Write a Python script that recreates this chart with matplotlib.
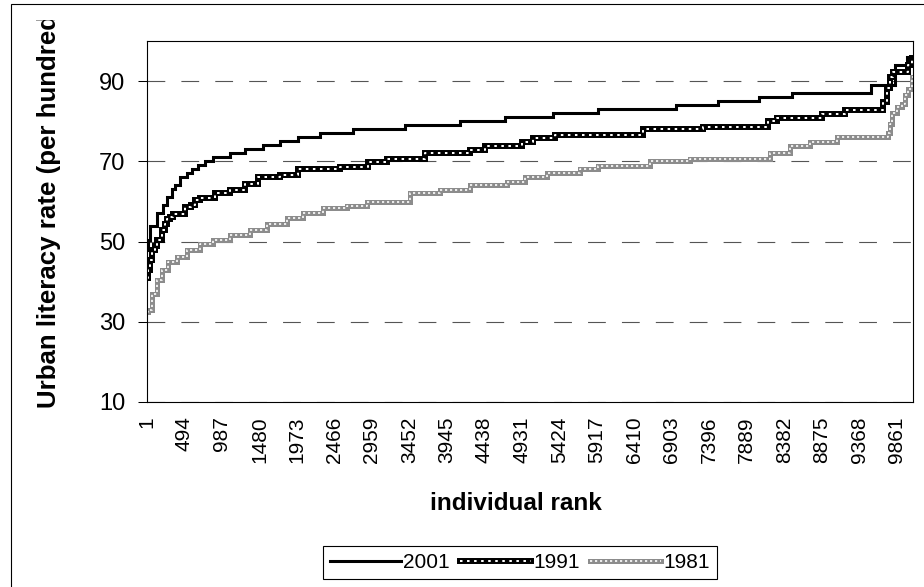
import numpy as np
import matplotlib.pyplot as plt
from matplotlib.legend_handler import HandlerTuple
from matplotlib.patches import Rectangle
from matplotlib.transforms import Bbox, TransformedBbox

plt.rcParams['font.family'] = ['Liberation Sans', 'DejaVu Sans']

# number of ranked units on the category axis, labelled every 493
n_units = 10075
tick_step = 493

# sorted urban literacy rates: rank where each level starts, and the level
rank_2001 = [1, 10, 40, 128, 215, 260, 326, 369, 435, 523, 589, 676, 764, 873,
             1093, 1290, 1530, 1750, 1990, 2276, 2714, 3394, 4117, 4709, 5336,
             5936, 6957, 7514, 8053, 8479, 9522, 9840, 9990, 10075]
rate_2001 = [48, 50.5, 54, 57, 59, 61, 63, 64, 66, 67, 68, 69, 70, 71,
             72, 73, 74, 75, 76, 77, 78, 79, 80, 81, 82,
             83, 84, 85, 86, 87, 89, 94, 96, 96]

rank_1991 = [1, 20, 40, 70, 106, 128, 194, 238, 270, 304, 347, 501, 580, 632,
             698, 895, 1093, 1290, 1465, 1750, 1990, 2539, 2911, 3153, 3657,
             4249, 4446, 4928, 5081, 5366, 6527, 7316, 8171, 8282, 8874, 9180,
             9684, 9728, 9772, 9815, 10013, 10060, 10075]
rate_1991 = [41, 43, 45.5, 48, 49, 50.5, 53, 54.5, 55.5, 56.2, 56.8, 58.5, 59.1, 60.3,
             60.8, 62, 62.8, 64.3, 66, 66.6, 68, 68.6, 69.9, 70.7, 72.1,
             72.8, 73.8, 74.9, 75.7, 76.5, 78.0, 78.6, 80.0, 80.7, 81.9, 82.8,
             84.8, 88.2, 91.1, 92.3, 94.0, 95.7, 95.7]

rank_1981 = [1, 18, 62, 128, 194, 282, 391, 523, 698, 873, 1093, 1356, 1575,
             1838, 2057, 2320, 2627, 2890, 3460, 3854, 4249, 4731, 4972, 5257,
             5695, 5936, 6616, 7142, 8193, 8456, 8719, 9070, 9750, 9772, 9800,
             9860, 9925, 9969, 10010, 10057, 10075]
rate_1981 = [32.5, 33, 37, 40.4, 42.9, 45, 46.2, 47.9, 49.5, 50.4, 51.6, 52.9, 54.5,
             55.8, 57, 58.3, 58.8, 59.9, 62, 62.8, 64.1, 64.9, 66.1, 67,
             68, 68.8, 70.2, 70.7, 72, 73.8, 74.9, 76.1, 77, 79.4, 82,
             83.6, 84.4, 86.5, 88, 91.1, 91.1]

years = ['2001', '1991', '1981']
y_ticks = [10, 30, 50, 70, 90]

fig = plt.figure(figsize=(9.24, 5.87), dpi=100)
ax = fig.add_axes([147 / 924, 1 - 402 / 587, 766 / 924, 361 / 587])

# 2001: plain heavy black line
l01, = ax.plot(rank_2001, rate_2001, drawstyle='steps-post', color='black',
               lw=2.2, solid_joinstyle='miter')

# 1991: black band with white holes
l91a, = ax.plot(rank_1991, rate_1991, drawstyle='steps-post', color='black',
                lw=4.3, solid_joinstyle='miter')
l91b, = ax.plot(rank_1991, rate_1991, drawstyle='steps-post', color='white',
                lw=1.45, ls=(0, (1.25, 2.25)))

# 1981: grey band with white holes
l81a, = ax.plot(rank_1981, rate_1981, drawstyle='steps-post', color='#8c8c8c',
                lw=3.6, solid_joinstyle='miter')
l81b, = ax.plot(rank_1981, rate_1981, drawstyle='steps-post', color='white',
                lw=1.2, ls=(0, (1.3, 1.7)))

ax.set_xlim(1, n_units)
ax.set_ylim(10, 100)

xt = list(range(1, n_units, tick_step))
ax.set_xticks(xt)
ax.set_xticklabels([str(v) for v in xt], rotation=90, fontsize=15)
ax.tick_params(axis='x', length=0, pad=10.5)

ax.set_yticks(y_ticks)
ax.set_yticklabels([str(v) for v in y_ticks], fontsize=17)
ax.tick_params(axis='y', length=6.5, width=0.75, pad=9, direction='out')

ax.yaxis.grid(True, color='#555555', lw=0.8, ls=(0, (16, 14.5)))
ax.xaxis.grid(False)

for sp in ax.spines.values():
    sp.set_linewidth(0.8)
    sp.set_color('black')

# axis titles; the long y title runs off the top of the chart area
ylab = fig.text(49 / 924, 1 - 408 / 587, 'Urban literacy rate (per hundred)',
                rotation=90, ha='center', va='bottom', fontsize=18.6,
                fontweight='bold')
ylab.set_clip_on(True)
ylab.set_clip_box(TransformedBbox(Bbox([[0, 0], [1, 1 - 20 / 587]]),
                                  fig.transFigure))

fig.text(516 / 924, 1 - 510 / 587, 'individual rank', ha='center',
         va='baseline', fontsize=17.5, fontweight='bold')

leg = fig.legend([l01, (l91a, l91b), (l81a, l81b)], years, ncol=3,
                 loc='center', bbox_to_anchor=(520 / 924, 1 - 562.5 / 587),
                 handler_map={tuple: HandlerTuple(ndivide=1)},
                 fontsize=15, frameon=True, fancybox=False, framealpha=1,
                 edgecolor='black', borderpad=0.35, handlelength=3.4,
                 handletextpad=0.1, columnspacing=0.5, borderaxespad=0)
leg.get_frame().set_linewidth(0.8)

# chart area border
fig.add_artist(Rectangle((11 / 924, -0.05), 1.1, 0.05 + 1 - 4 / 587,
                         transform=fig.transFigure, fill=False,
                         edgecolor='black', lw=0.8))

fig.savefig('out.png', dpi=100)
